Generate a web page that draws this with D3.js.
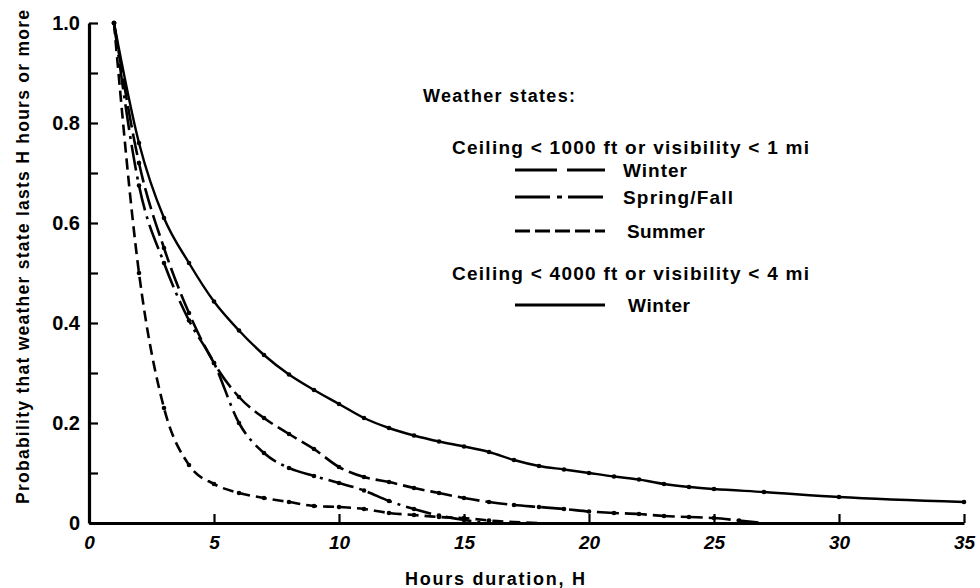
<!DOCTYPE html>
<html>
<head>
<meta charset="utf-8">
<script src="https://cdn.jsdelivr.net/npm/d3@7"></script>
<style>
  html, body { margin: 0; padding: 0; background: #fff; }
  svg { display: block; font-family: "Liberation Sans", Arial, Helvetica, sans-serif; }
</style>
</head>
<body>
<svg id="chart" width="980" height="588"></svg>
<script>
// ---- Data ----
const xTickValues = [0, 5, 10, 15, 20, 25, 30, 35];
const yTickValues = [0, 0.1, 0.2, 0.3, 0.4, 0.5, 0.6, 0.7, 0.8, 0.9, 1.0];

// Ceiling < 4000 ft or visibility < 4 mi, Winter (solid)
const winter4000Hours = [1,2,3,4,5,6,7,8,9,10,11,12,13,14,15,16,17,18,19,20,21,22,23,24,25,27,30,35];
const winter4000Prob  = [1.0,0.76,0.61,0.52,0.443,0.385,0.336,0.297,0.266,0.238,0.21,0.19,0.175,0.163,0.153,0.142,0.126,0.114,0.107,0.10,0.093,0.087,0.078,0.072,0.068,0.062,0.052,0.042];

// Ceiling < 1000 ft or visibility < 1 mi, Winter (long dashes)
const winter1000Hours = [1,2,3,4,5,6,7,8,9,10,11,12,13,14,15,16,17,18,19,20,21,22,23,24,25,26,27];
const winter1000Prob  = [1.0,0.72,0.55,0.42,0.32,0.252,0.21,0.178,0.148,0.112,0.092,0.082,0.07,0.06,0.05,0.042,0.036,0.032,0.028,0.023,0.02,0.018,0.014,0.012,0.01,0.005,0.0];

// Ceiling < 1000 ft or visibility < 1 mi, Spring/Fall (dash-dot)
const springFallHours = [1,2,3,4,5,6,7,8,9,10,11,12,13,14,15,16];
const springFallProb  = [1.0,0.675,0.52,0.405,0.32,0.2,0.14,0.11,0.094,0.08,0.065,0.044,0.028,0.015,0.006,0.0];

// Ceiling < 1000 ft or visibility < 1 mi, Summer (short dashes)
const summerHours = [1,2,3,4,5,6,7,8,9,10,11,12,13,14,15,16,17,18];
const summerProb  = [1.0,0.50,0.23,0.116,0.078,0.06,0.05,0.042,0.034,0.032,0.028,0.02,0.016,0.012,0.01,0.005,0.002,0.0];

const seriesNames = ["Winter", "Spring/Fall", "Summer", "Winter"];

// ---- Layout ----
const svg = d3.select("#chart");
const x = d3.scaleLinear().domain([0, 35]).range([89, 964]);
const y = d3.scaleLinear().domain([0, 1]).range([523, 23]);

const series = [
  { hours: winter4000Hours, prob: winter4000Prob, dash: null, plotWidth: 2.4 },
  { hours: winter1000Hours, prob: winter1000Prob, dash: "22,6", plotWidth: 2.6 },
  { hours: springFallHours, prob: springFallProb, dash: "26,6,3,6", plotWidth: 2.6 },
  { hours: summerHours, prob: summerProb, dash: "11,6", plotWidth: 2.6 }
];

const line = d3.line()
  .x(d => x(d[0]))
  .y(d => y(d[1]))
  .curve(d3.curveMonotoneX);

const plot = svg.append("g");
series.forEach(s => {
  const pts = s.hours.map((h, i) => [h, s.prob[i]]);
  plot.append("path")
    .attr("d", line(pts))
    .attr("fill", "none")
    .attr("stroke", "#000")
    .attr("stroke-width", s.plotWidth)
    .attr("stroke-dasharray", s.dash)
    .attr("stroke-linecap", "butt");
  plot.selectAll(null)
    .data(pts.filter(p => p[1] > 0.003))
    .enter().append("circle")
    .attr("cx", d => x(d[0]))
    .attr("cy", d => y(d[1]))
    .attr("r", 2.3)
    .attr("fill", "#000");
});

// ---- Axes ----
const yAxis = d3.axisLeft(y)
  .tickValues(yTickValues)
  .tickSizeInner(-9)
  .tickSizeOuter(0)
  .tickPadding(9)
  .tickFormat(v => {
    const k = Math.round(v * 10);
    if (k % 2 !== 0) return "";
    return k === 0 ? "0" : (k / 10).toFixed(1);
  });

const yG = svg.append("g").attr("transform", `translate(${x(0)},0)`).call(yAxis);
yG.select(".domain").attr("stroke", "#000").attr("stroke-width", 3.2);
yG.selectAll(".tick line").attr("stroke", "#000").attr("stroke-width", 2.2);
yG.selectAll(".tick text")
  .attr("font-size", 20).attr("font-weight", "bold").attr("fill", "#000")
  .attr("font-family", "'Liberation Sans', Arial, sans-serif");

const xAxis = d3.axisBottom(x)
  .tickValues(xTickValues)
  .tickSizeInner(-9)
  .tickSizeOuter(0)
  .tickPadding(13)
  .tickFormat(d3.format("d"));

const xG = svg.append("g").attr("transform", `translate(0,${y(0)})`).call(xAxis);
xG.select(".domain").attr("stroke", "#000").attr("stroke-width", 3.2);
xG.selectAll(".tick line").attr("stroke", "#000").attr("stroke-width", 2.2);
xG.selectAll(".tick text")
  .attr("font-size", 19).attr("font-weight", "bold").attr("font-style", "italic").attr("fill", "#000")
  .attr("font-family", "'Liberation Sans', Arial, sans-serif");

// ---- Axis titles ----
svg.append("text")
  .attr("transform", `translate(29,257) rotate(-90)`)
  .attr("text-anchor", "middle")
  .attr("font-size", 17.5)
  .attr("font-weight", "bold")
  .attr("textLength", 494)
  .attr("lengthAdjust", "spacing")
  .text("Probability that weather state lasts H hours or more");

svg.append("text")
  .attr("x", 495).attr("y", 585)
  .attr("text-anchor", "middle")
  .attr("font-size", 18)
  .attr("font-weight", "bold")
  .attr("textLength", 180)
  .attr("lengthAdjust", "spacing")
  .text("Hours duration, H");

// ---- Legend ----
const leg = svg.append("g").attr("font-weight", "bold").attr("fill", "#000");
leg.append("text").attr("x", 423).attr("y", 102).attr("font-size", 18)
  .attr("textLength", 152).attr("lengthAdjust", "spacing").text("Weather states:");
leg.append("text").attr("x", 452).attr("y", 154).attr("font-size", 19)
  .attr("textLength", 357).attr("lengthAdjust", "spacing").text("Ceiling < 1000 ft or visibility < 1 mi");
leg.append("text").attr("x", 452).attr("y", 280).attr("font-size", 19)
  .attr("textLength", 357).attr("lengthAdjust", "spacing").text("Ceiling < 4000 ft or visibility < 4 mi");

const legendItems = [
  { name: seriesNames[0], y: 170, dash: "42,10", tx: 623, w: 64 },
  { name: seriesNames[1], y: 197, dash: "35,7,5,6", tx: 623, w: 110 },
  { name: seriesNames[2], y: 231, dash: "15,5", tx: 627, w: 78 },
  { name: seriesNames[3], y: 305, dash: null, tx: 628, w: 62 }
];
legendItems.forEach(it => {
  leg.append("line")
    .attr("x1", 515).attr("x2", 605)
    .attr("y1", it.y).attr("y2", it.y)
    .attr("stroke", "#000").attr("stroke-width", 2.8)
    .attr("stroke-dasharray", it.dash);
  leg.append("text")
    .attr("x", it.tx).attr("y", it.y + 7)
    .attr("font-size", 19)
    .attr("textLength", it.w).attr("lengthAdjust", "spacing")
    .text(it.name);
});
</script>
</body>
</html>
